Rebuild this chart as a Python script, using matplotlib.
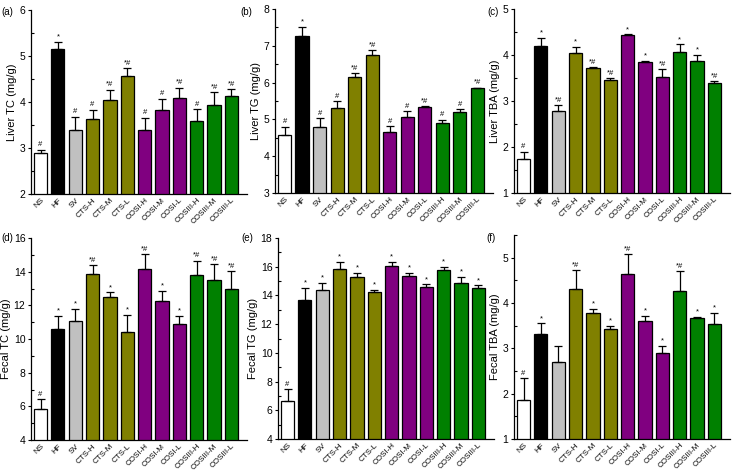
import matplotlib
matplotlib.use("Agg")
import matplotlib.pyplot as plt
from matplotlib.ticker import AutoMinorLocator, MultipleLocator

plt.rcParams['font.family'] = ['Liberation Sans', 'DejaVu Sans']

groups = ["NS", "HF", "SV", "CTS-H", "CTS-M", "CTS-L", "COSI-H", "COSI-M", "COSI-L",
          "COSIII-H", "COSIII-M", "COSIII-L"]
bar_colors = ["white", "black", "#c0c0c0"] + ["#808000"] * 3 + ["#800080"] * 3 + ["#008000"] * 3

# (a) Liver TC
liver_tc = [2.89, 5.15, 3.40, 3.63, 4.05, 4.57, 3.39, 3.83, 4.08, 3.58, 3.94, 4.14]
liver_tc_err = [0.07, 0.16, 0.28, 0.20, 0.22, 0.17, 0.27, 0.24, 0.23, 0.27, 0.27, 0.14]
liver_tc_sig = ["#", "*", "#", "#", "*#", "*#", "#", "#", "*#", "#", "*#", "*#"]

# (b) Liver TG
liver_tg = [4.58, 7.27, 4.79, 5.32, 6.14, 6.76, 4.66, 5.06, 5.34, 4.89, 5.20, 5.84]
liver_tg_err = [0.22, 0.24, 0.25, 0.18, 0.12, 0.12, 0.16, 0.17, 0.02, 0.10, 0.07, 0.02]
liver_tg_sig = ["#", "*", "#", "#", "*#", "*#", "#", "#", "*#", "#", "#", "*#"]

# (c) Liver TBA
liver_tba = [1.74, 4.20, 2.78, 4.05, 3.71, 3.46, 4.43, 3.85, 3.53, 4.07, 3.87, 3.39]
liver_tba_err = [0.16, 0.18, 0.13, 0.13, 0.02, 0.04, 0.02, 0.03, 0.16, 0.16, 0.13, 0.04]
liver_tba_sig = ["#", "*", "*#", "*", "*#", "*#", "*", "*", "*#", "*", "*", "*#"]

# (d) Fecal TC
fecal_tc = [5.87, 10.60, 11.05, 13.88, 12.47, 10.42, 14.15, 12.28, 10.88, 13.83, 13.50, 12.98]
fecal_tc_err = [0.55, 0.78, 0.75, 0.50, 0.30, 1.00, 0.90, 0.60, 0.50, 0.82, 0.95, 1.05]
fecal_tc_sig = ["#", "*", "*", "*#", "*", "*", "*#", "*", "*", "*#", "*#", "*#"]

# (e) Fecal TG
fecal_tg = [6.65, 13.65, 14.38, 15.82, 15.25, 14.25, 16.03, 15.33, 14.62, 15.77, 14.90, 14.52]
fecal_tg_err = [0.82, 0.85, 0.48, 0.50, 0.32, 0.15, 0.30, 0.22, 0.15, 0.20, 0.38, 0.18]
fecal_tg_sig = ["#", "*", "*", "*", "*", "*", "*", "*", "*", "*", "*", "*"]

# (f) Fecal TBA
fecal_tba = [1.86, 3.31, 2.70, 4.30, 3.78, 3.42, 4.63, 3.60, 2.89, 4.27, 3.66, 3.53]
fecal_tba_err = [0.48, 0.24, 0.36, 0.42, 0.09, 0.08, 0.45, 0.12, 0.17, 0.43, 0.04, 0.25]
fecal_tba_sig = ["#", "*", "", "*#", "*", "*", "*#", "*", "*", "*#", "*", "*"]

W, H = 738, 474
fig = plt.figure(figsize=(W / 100, H / 100), dpi=100)


def px_axes(left, right, top, bottom):
    return fig.add_axes([left / W, 1 - bottom / H, (right - left) / W, (bottom - top) / H])


# tag, y label, values, errors, marks, y range, major step, axes box (px), tag position (px)
panels = [
    ("(a)", "Liver TC (mg/g)", liver_tc, liver_tc_err, liver_tc_sig, (2, 6), 1, (31, 247, 10, 194), (1, 12)),
    ("(b)", "Liver TG (mg/g)", liver_tg, liver_tg_err, liver_tg_sig, (3, 8), 1, (275, 493, 9, 193), (240, 12)),
    ("(c)", "Liver TBA (mg/g)", liver_tba, liver_tba_err, liver_tba_sig, (1, 5), 1, (514, 730, 9, 193), (487, 12)),
    ("(d)", "Fecal TC (mg/g)", fecal_tc, fecal_tc_err, fecal_tc_sig, (4, 16), 2, (31, 247, 238, 440), (1, 238)),
    ("(e)", "Fecal TG (mg/g)", fecal_tg, fecal_tg_err, fecal_tg_sig, (4, 18), 2, (278, 494, 238, 439), (241, 238)),
    ("(f)", "Fecal TBA (mg/g)", fecal_tba, fecal_tba_err, fecal_tba_sig, (1, 5.5), 1, (514, 730, 235, 439), (486, 238)),
]

x = list(range(len(groups)))
for tag, ylabel, vals, errs, sigs, ylim, step, box, tagpos in panels:
    ax = px_axes(*box)
    ax.bar(x, vals, width=0.76, color=bar_colors, edgecolor="black", linewidth=0.9, zorder=2)
    ax.errorbar(x, vals, yerr=[[0] * len(errs), errs], fmt="none", ecolor="black",
                elinewidth=0.9, capsize=3, capthick=0.9, zorder=3)
    for xi, v, e, s in zip(x, vals, errs, sigs):
        if s:
            ax.annotate(s, (xi, v + e), xytext=(0, 1), textcoords="offset points",
                        ha="center", va="bottom", fontsize=5.5)
    ax.set_xlim(-0.55, 11.9)
    ax.set_ylim(*ylim)
    ax.yaxis.set_major_locator(MultipleLocator(step))
    ax.yaxis.set_minor_locator(AutoMinorLocator(2))
    ax.set_xticks(x)
    ax.set_xticklabels(groups, rotation=45, ha="right", rotation_mode="anchor", fontsize=5.8)
    ax.tick_params(axis="x", direction="in", length=2.5, width=0.8, pad=2)
    ax.tick_params(axis="y", which="major", direction="out", length=2.5, width=0.8, labelsize=7.5, pad=1.5)
    ax.tick_params(axis="y", which="minor", direction="in", length=2, width=0.8)
    for side in ("top", "right"):
        ax.spines[side].set_visible(False)
    for side in ("left", "bottom"):
        ax.spines[side].set_linewidth(0.9)
    ax.set_ylabel(ylabel, fontsize=8, labelpad=2)
    fig.text(tagpos[0] / W, 1 - tagpos[1] / H, tag, fontsize=7, ha="left", va="center")

fig.savefig("out.png", dpi=100)
